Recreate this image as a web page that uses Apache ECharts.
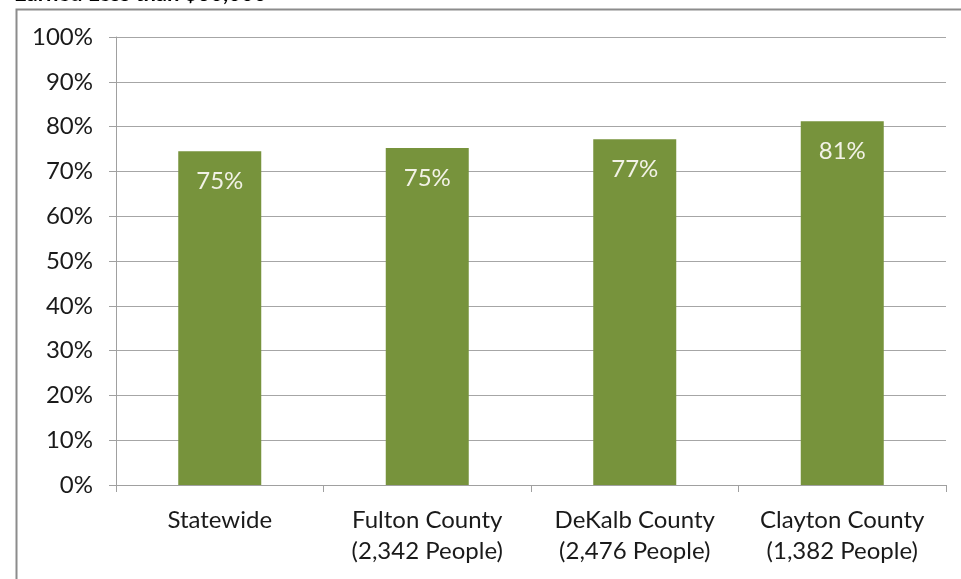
<!DOCTYPE html>
<html>
<head>
<meta charset="utf-8">
<script src="https://cdn.jsdelivr.net/npm/echarts@6/dist/echarts.min.js"></script>
<style>
  html, body { margin: 0; padding: 0; background: #fff; }
  #barChart { width: 961px; height: 579px; }
</style>
</head>
<body>
<div id="barChart"></div>
<script>
  // data
  let categories = ['Statewide', 'Fulton County\n(2,342 People)', 'DeKalb County\n(2,476 People)', 'Clayton County\n(1,382 People)']
  let shares = [74.5, 75.2, 77.2, 81.2]
  let title = 'Earned Less than $30,000'

  const font = 'Lato, "Open Sans", sans-serif'
  const option = {
    backgroundColor: '#fff',
    animation: false,
    graphic: [{
      type: 'rect',
      left: 14,
      top: 7,
      shape: { width: 960, height: 600 },
      style: { fill: 'none', stroke: '#8c8c8c', lineWidth: 2 }
    }, {
      type: 'text',
      left: 14,
      top: -17,
      style: { text: title, fontFamily: font, fontSize: 22, fontWeight: 'bold', fill: '#000' }
    }],
    grid: {
      left: 116,
      right: 15,
      top: 37,
      bottom: 94
    },
    xAxis: {
      type: 'category',
      data: categories,
      axisLine: { lineStyle: { color: '#a0a0a0', width: 1 } },
      axisTick: { show: true, length: 7, lineStyle: { color: '#a0a0a0' } },
      axisLabel: {
        interval: 0,
        hideOverlap: false,
        color: '#1a1a1a',
        fontFamily: font,
        fontSize: 24,
        lineHeight: 31,
        margin: 20
      }
    },
    yAxis: {
      type: 'value',
      min: 0,
      max: 100,
      interval: 10,
      axisLine: { show: true, lineStyle: { color: '#a0a0a0' } },
      axisTick: { show: true, length: 7, lineStyle: { color: '#a0a0a0' } },
      splitLine: { lineStyle: { color: '#a6a6a6', width: 1 } },
      axisLabel: {
        color: '#1a1a1a',
        fontFamily: font,
        fontSize: 24,
        margin: 23,
        formatter: '{value}%'
      }
    },
    series: [{
      type: 'bar',
      data: shares,
      barWidth: '40%',
      itemStyle: { color: '#77933c' },
      label: {
        show: true,
        position: 'insideTop',
        distance: 18,
        color: '#f2f2e6',
        fontFamily: font,
        fontSize: 24,
        formatter: function (p) {
          return Math.round(p.value) + '%'
        }
      }
    }]
  }
  let chart = echarts.init(document.getElementById('barChart'))
  chart.setOption(option)
</script>
</body>
</html>
